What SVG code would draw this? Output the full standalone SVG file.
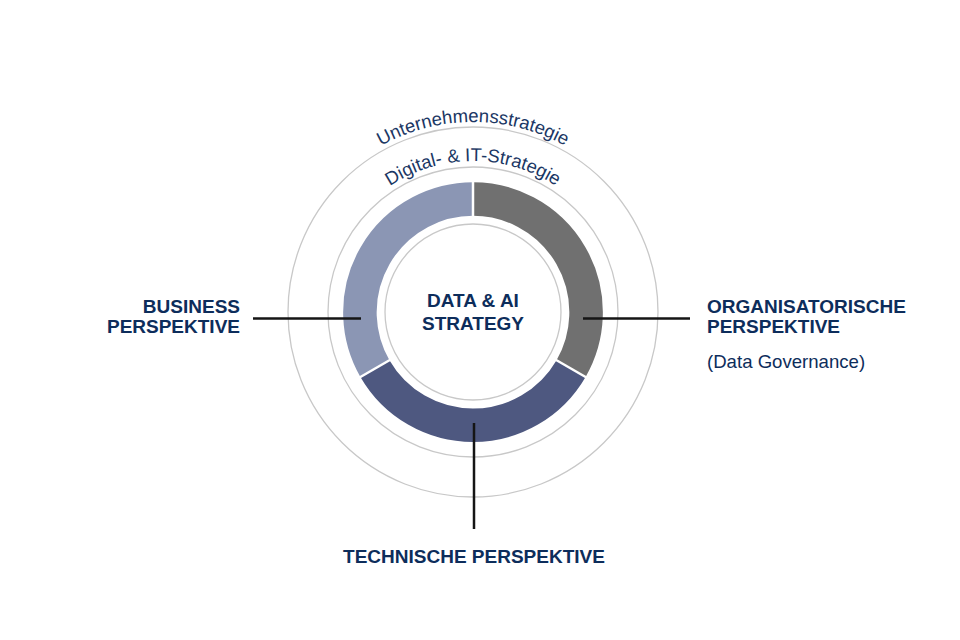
<svg xmlns="http://www.w3.org/2000/svg" width="960" height="640" viewBox="0 0 960 640">
<style>
.ring{fill:none;stroke:#c8c8c8;stroke-width:1.3}
.seg{fill:none;stroke-width:33.5}
.sep{stroke:#ffffff;stroke-width:2.5}
.lead{stroke:#151515;stroke-width:2.5;fill:none}
.bold{font-family:"Liberation Sans",Arial,sans-serif;font-weight:bold;font-size:19px;fill:#0d2d5b}
.reg{font-family:"Liberation Sans",Arial,sans-serif;font-size:18.6px;fill:#0d2d5b}
.arc{font-family:"Liberation Sans",Arial,sans-serif;font-size:18.5px;fill:#1b3764}
</style>
<defs>
<path id="arcOuter" d="M 283 312 A 190 190 0 0 1 663 312"/>
<path id="arcInner" d="M 322 312 A 151 151 0 0 1 624 312"/>
</defs>
<rect width="960" height="640" fill="#ffffff"/>
<g id="strategy-rings">
<circle class="ring" cx="473" cy="312" r="185"/>
<circle class="ring" cx="473" cy="312" r="145"/>
<text class="arc" text-anchor="middle"><textPath href="#arcOuter" startOffset="50%">Unternehmensstrategie</textPath></text>
<text class="arc" text-anchor="middle"><textPath href="#arcInner" startOffset="50%">Digital- &amp; IT-Strategie</textPath></text>
</g>
<g id="segments">
<path class="seg" stroke="#707070" d="M 473 199 A 113.25 113.25 0 0 1 571.08 368.6"/>
<path class="seg" stroke="#4e5880" d="M 571.08 368.6 A 113.25 113.25 0 0 1 374.92 368.6"/>
<path class="seg" stroke="#8b96b4" d="M 374.92 368.6 A 113.25 113.25 0 0 1 473 199"/>
<line class="sep" x1="473" y1="217" x2="473" y2="179"/>
<line class="sep" x1="555.27" y1="359.5" x2="587.32" y2="378"/>
<line class="sep" x1="390.73" y1="359.5" x2="358.68" y2="378"/>
</g>
<g id="center">
<circle class="ring" cx="473" cy="312" r="88"/>
<text class="bold" x="473" y="307" text-anchor="middle">DATA &amp; AI</text>
<text class="bold" x="473" y="330" text-anchor="middle">STRATEGY</text>
</g>
<g id="connectors">
<line class="lead" x1="253" y1="318.5" x2="361" y2="318.5"/>
<line class="lead" x1="583" y1="318.5" x2="690" y2="318.5"/>
<line class="lead" x1="474" y1="423" x2="474" y2="529"/>
</g>
<g id="business">
<text class="bold" x="240" y="313" text-anchor="end">BUSINESS</text>
<text class="bold" x="240" y="333" text-anchor="end">PERSPEKTIVE</text>
</g>
<g id="organisatorisch">
<text class="bold" x="707" y="313">ORGANISATORISCHE</text>
<text class="bold" x="707" y="333">PERSPEKTIVE</text>
<text class="reg" x="707" y="368">(Data Governance)</text>
</g>
<g id="technisch">
<text class="bold" x="474" y="563" text-anchor="middle">TECHNISCHE PERSPEKTIVE</text>
</g>
</svg>
